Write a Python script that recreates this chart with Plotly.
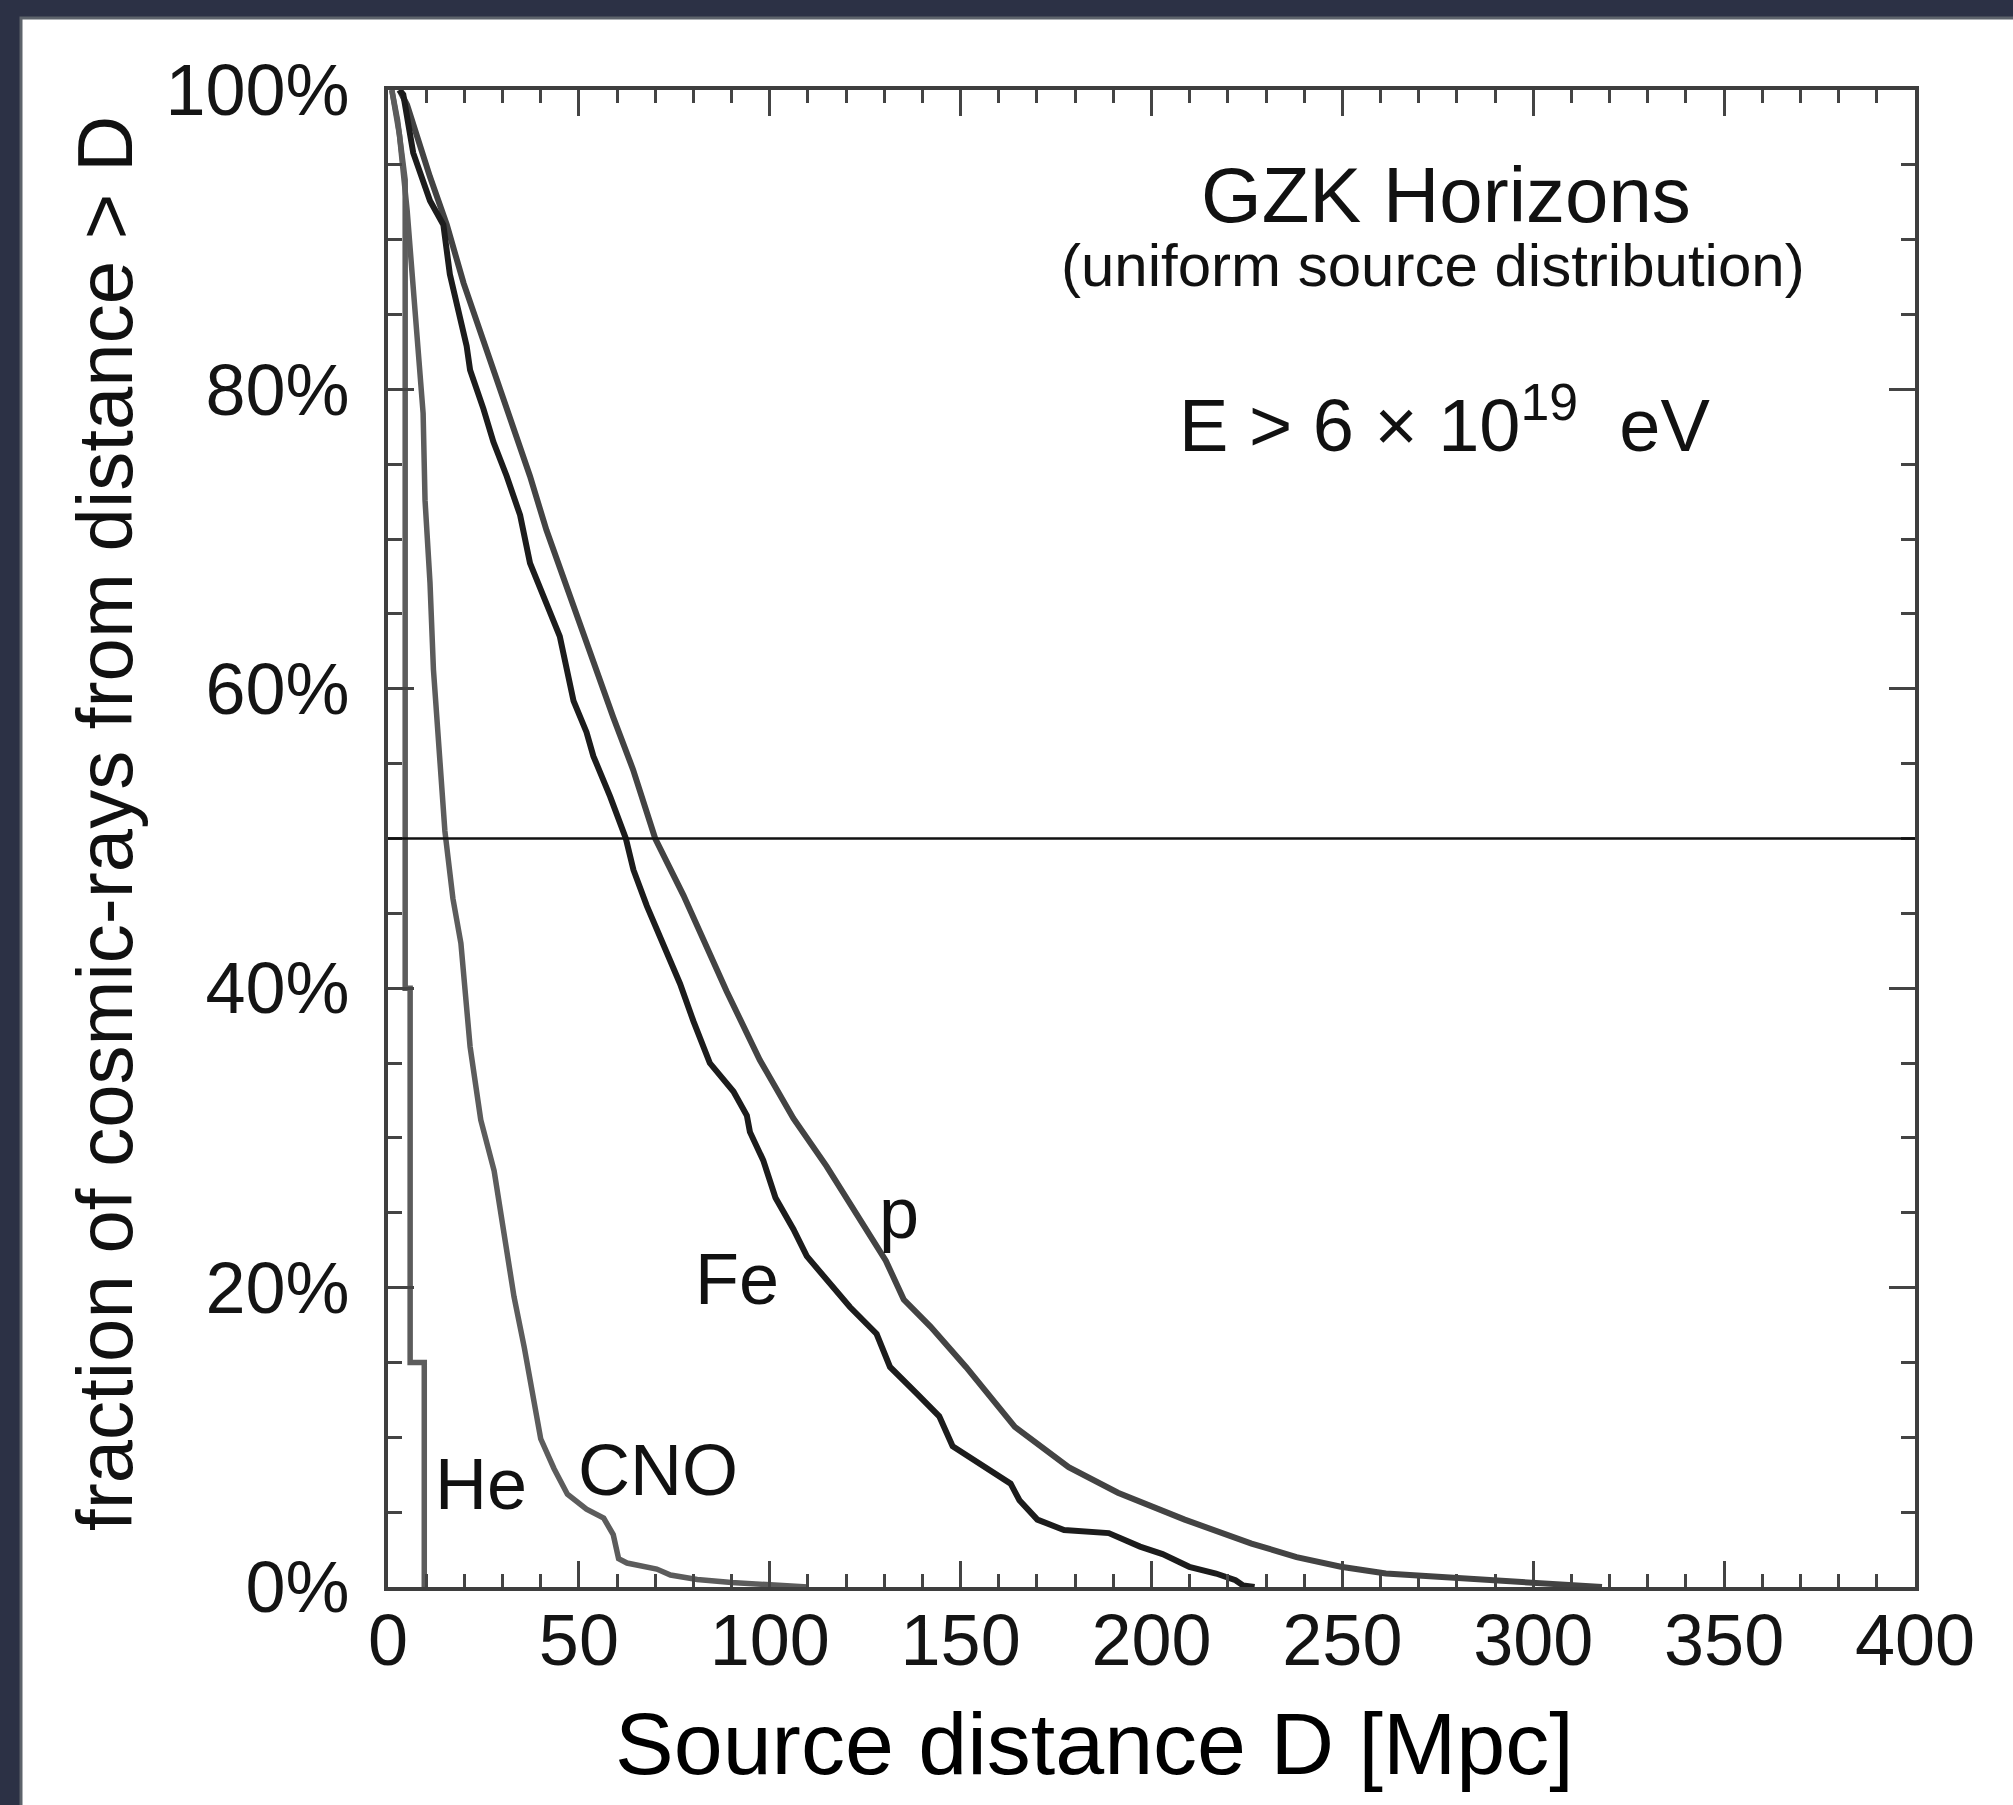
import plotly.graph_objects as go

# ---------------- data ----------------
p_dist = [3, 5, 11, 15.4, 19.8, 24.1, 28.5, 32.8, 37.2, 41.5, 45.9, 50.3, 54.6, 59, 64.2, 70,
          77.4, 85.2, 88.7, 97.4, 106.2, 114.9, 123.6, 130.4, 135.1, 142.1, 151.4, 156.1, 164.2,
          178.3, 191.2, 208.7, 226.2, 238, 249.6, 261.4, 273, 288, 300, 312, 318]
p_frac = [100, 99, 94.2, 91, 87.1, 83.9, 80.6, 77.4, 74.2, 70.6, 67.4, 64.2, 61.3, 58.1, 54.6, 50,
          46.2, 41.8, 39.8, 35.2, 31.3, 28.1, 24.5, 21.8, 19.2, 17.4, 14.7, 13.2, 10.7,
          8.0, 6.3, 4.5, 2.9, 2.0, 1.35, 0.9, 0.7, 0.5, 0.3, 0.1, 0]

fe_dist = [3, 4, 6.6, 11, 14.5, 16.2, 20.6, 21.5, 25, 27.6, 31.1, 34.6, 37.2, 42.4, 45, 48.6, 52,
           53.8, 58.2, 62.3, 64.3, 67.8, 72.1, 76.5, 80, 84.3, 90.5, 94, 94.8, 98.3, 101.5, 106.2,
           109.7, 115, 121, 128, 131.5, 138.6, 144.4, 147.9, 156.1, 163.1, 165.4, 170.1, 177.1,
           185.3, 188.8, 197, 202.9, 209.9, 216.9, 222, 224, 227]
fe_frac = [100, 99.7, 95.8, 92.6, 91, 87.7, 82.9, 81.3, 78.7, 76.5, 74.2, 71.6, 68.4, 65.2, 63.5, 59.2, 57.1,
           55.5, 52.8, 50, 47.9, 45.5, 42.8, 40.3, 37.8, 35, 33.1, 31.5, 30.4, 28.5, 26, 23.9,
           22.1, 20.5, 18.7, 16.9, 14.7, 12.9, 11.4, 9.4, 8.0, 6.9, 5.8, 4.5, 3.8,
           3.6, 3.6, 2.7, 2.2, 1.35, 0.9, 0.45, 0.1, 0]

cno_dist = [1, 3, 5, 6.6, 7.1, 9.2, 9.7, 11, 11.9, 13.6, 14.9, 17, 19.1, 21.5, 24.3, 27.8, 30.9, 33,
            35.7, 38.3, 40, 43.5, 47, 52, 56.5, 59, 60.4, 62.6, 70.4, 74, 81, 90, 100, 110]
cno_frac = [100, 97, 92, 87, 84.5, 78.4, 72.6, 67.1, 61.3, 55.5, 50.5, 46, 43, 36.1, 31.2, 27.8, 22.8, 19.4,
            16, 12.6, 9.9, 7.9, 6.2, 5.2, 4.6, 3.5, 1.9, 1.6, 1.2, 0.8, 0.5, 0.3, 0.15, 0]

he_dist = [1, 2.5, 4.5, 4.5, 5.8, 5.8, 9.5, 9.5]
he_frac = [100, 98, 94, 40, 40, 15, 15, 0]

x_ticks = [0, 50, 100, 150, 200, 250, 300, 350, 400]
y_ticks = [0, 20, 40, 60, 80, 100]
y_tick_labels = ["0%", "20%", "40%", "60%", "80%", "100%"]

# ---------------- figure ----------------
W, H = 2013, 1805
L, R, T, B = 388, 98, 90, 218
PW, PH = W - L - R, H - T - B

FONT = "Liberation Sans, Arial, Helvetica, sans-serif"

fig = go.Figure()

series = [
    ("He", he_dist, he_frac, "#5c5c5c", 5.5),
    ("CNO", cno_dist, cno_frac, "#5c5c5c", 5.5),
    ("p", p_dist, p_frac, "#434343", 6),
    ("Fe", fe_dist, fe_frac, "#1c1c1c", 6),
]
for name, xs, ys, col, w in series:
    fig.add_trace(go.Scatter(x=xs, y=ys, mode="lines", name=name,
                             line=dict(color=col, width=w), showlegend=False))


def px2paper_x(px):
    return (px - L) / PW


def px2paper_y(py):
    return (H - B - py) / PH


shapes = [
    # white panel over the dark space background
    dict(type="rect", xref="paper", yref="paper", layer="below",
         x0=px2paper_x(21), x1=px2paper_x(W + 20), y0=px2paper_y(H + 20), y1=px2paper_y(18),
         fillcolor="white", line=dict(color="#5d636b", width=3)),
    # 50 % reference line
    dict(type="line", xref="paper", yref="y", x0=0, x1=1, y0=50, y1=50,
         line=dict(color="#111111", width=2.5)),
]


def ann(text, x, y, size, xref="paper", yref="paper", color="#111", angle=0):
    return dict(text=text, x=x, y=y, xref=xref, yref=yref, showarrow=False,
                xanchor="center", yanchor="middle", textangle=angle,
                font=dict(family=FONT, size=size, color=color))


annotations = [
    ann("GZK Horizons", px2paper_x(1446), px2paper_y(195), 78),
    ann("(uniform source distribution)", px2paper_x(1433), px2paper_y(266), 60),
    ann("E > 6 × 10<sup>19</sup>  eV", px2paper_x(1444), px2paper_y(420), 74),
    ann("p", 133.9, 25.0, 72, xref="x", yref="y"),
    ann("Fe", 91.4, 20.6, 72, xref="x", yref="y"),
    ann("He", 24.4, 6.9, 72, xref="x", yref="y"),
    ann("CNO", 70.7, 7.8, 72, xref="x", yref="y"),
    # axis titles
    ann("Source distance D [Mpc]", px2paper_x(1094), px2paper_y(1743), 88, color="#000"),
    ann("fraction of cosmic-rays from distance > D", px2paper_x(105), px2paper_y(824), 78,
        angle=-90),
]

axis_common = dict(
    showline=True, linecolor="#3e3e3e", linewidth=4, mirror="ticks",
    ticks="inside", tickcolor="#444", tickwidth=3, ticklen=26,
    showgrid=False, zeroline=False,
    tickfont=dict(family=FONT, size=72, color="#141414"),
)

fig.update_xaxes(range=[0, 400], tickmode="array", tickvals=x_ticks,
                 ticktext=[str(v) for v in x_ticks], ticklabelstandoff=-12,
                 minor=dict(dtick=10, ticks="inside", ticklen=13, tickcolor="#444", tickwidth=3, showgrid=False),
                 **axis_common)
fig.update_yaxes(range=[0, 100], tickmode="array", tickvals=y_ticks, ticktext=y_tick_labels,
                 ticklabelstandoff=20,
                 minor=dict(dtick=5, ticks="inside", ticklen=14, tickcolor="#444", tickwidth=3, showgrid=False),
                 **axis_common)

fig.update_layout(
    width=W, height=H,
    margin=dict(l=L, r=R, t=T, b=B, pad=0),
    paper_bgcolor="#2c3145",
    plot_bgcolor="white",
    shapes=shapes,
    annotations=annotations,
    font=dict(family=FONT),
)

fig.write_html("out.html")
